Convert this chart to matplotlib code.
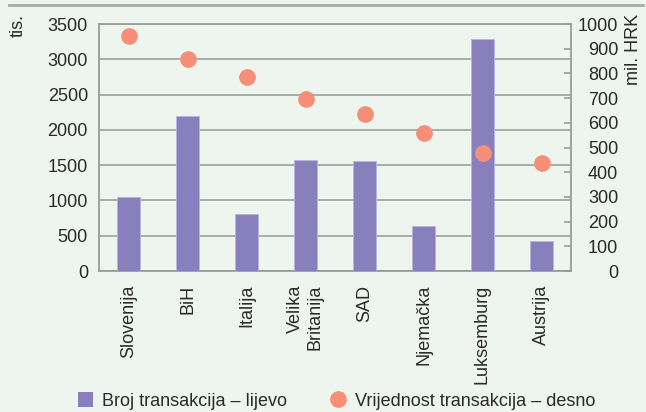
import matplotlib
matplotlib.use("Agg")
import matplotlib.pyplot as plt
from matplotlib.lines import Line2D
from matplotlib.patches import Patch

plt.rcParams['font.family'] = ['Liberation Sans', 'DejaVu Sans']

# data
countries = ['Slovenija', 'BiH', 'Italija', 'Velika\nBritanija', 'SAD',
             'Njemačka', 'Luksemburg', 'Austrija']
broj = [1045, 2200, 805, 1575, 1555, 635, 3285, 420]        # tis., left axis
vrijednost = [951, 857, 787, 695, 636, 560, 477, 436]       # mil. HRK, right axis
left_ticks = [0, 500, 1000, 1500, 2000, 2500, 3000, 3500]
right_ticks = [0, 100, 200, 300, 400, 500, 600, 700, 800, 900, 1000]

bg = '#eef4ee'
bar_col = '#8880bd'
dot_col = '#f78e77'
grid_col = '#a3a6a3'
txt = '#2a2a2a'

fig = plt.figure(figsize=(6.46, 4.12), dpi=100, facecolor=bg)
ax = fig.add_axes([99/646, 1 - 271/412, 472/646, 247/412])
ax.set_facecolor(bg)

x = list(range(len(countries)))
ax.bar(x, broj, width=0.4, color=bar_col, edgecolor='#b9b4dc', linewidth=0.6, zorder=3)
ax.set_xlim(-0.5, len(countries) - 0.5)
ax.set_ylim(0, 3500)
ax.set_yticks(left_ticks)
ax.set_xticks(x)
ax.set_xticklabels(countries, rotation=90, va='top', ha='center',
                   multialignment='right', fontsize=13, color=txt)
ax.tick_params(axis='x', length=0, pad=10)
ax.tick_params(axis='y', length=0, pad=8, labelsize=13, labelcolor=txt)
ax.yaxis.grid(True, color=grid_col, linewidth=1.3, zorder=0)
ax.set_axisbelow(True)
for s in ax.spines.values():
    s.set_color('#9a9c9a')
    s.set_linewidth(1.3)

ax2 = ax.twinx()
ax2.plot(x, vrijednost, 'o', color=dot_col, markersize=11, zorder=4)
ax2.set_ylim(0, 1000)
ax2.set_yticks(right_ticks)
ax2.tick_params(axis='y', direction='in', length=5, width=1.2, color='#9a9c9a',
                pad=34, labelsize=13, labelcolor=txt)
for lab in ax2.get_yticklabels():
    lab.set_horizontalalignment('right')
for s in ax2.spines.values():
    s.set_visible(False)

fig.text(18/646, 1 - 14/412, 'tis.', rotation=90, ha='center', va='top',
         fontsize=13, color=txt)
fig.text(634/646, 1 - 14/412, 'mil. HRK', rotation=90, ha='center', va='top',
         fontsize=13, color=txt)

# decorative rule at the top
fig.add_artist(Line2D([9/646, 643/646], [1 - 4.5/412, 1 - 4.5/412],
                      color='#a8aaa8', linewidth=2))

handles = [Patch(facecolor=bar_col, edgecolor='none'),
           Line2D([], [], marker='o', linestyle='none', color=dot_col, markersize=11)]
fig.legend(handles, ['Broj transakcija – lijevo', 'Vrijednost transakcija – desno'],
           loc='center left', bbox_to_anchor=(78/646, 1 - 401/412), ncol=2,
           frameon=False, fontsize=13, handlelength=0.85, handleheight=0.85,
           handletextpad=0.5, columnspacing=2.4, borderaxespad=0, borderpad=0,
           labelcolor=txt)

fig.savefig('out.png', dpi=100, facecolor=bg)
